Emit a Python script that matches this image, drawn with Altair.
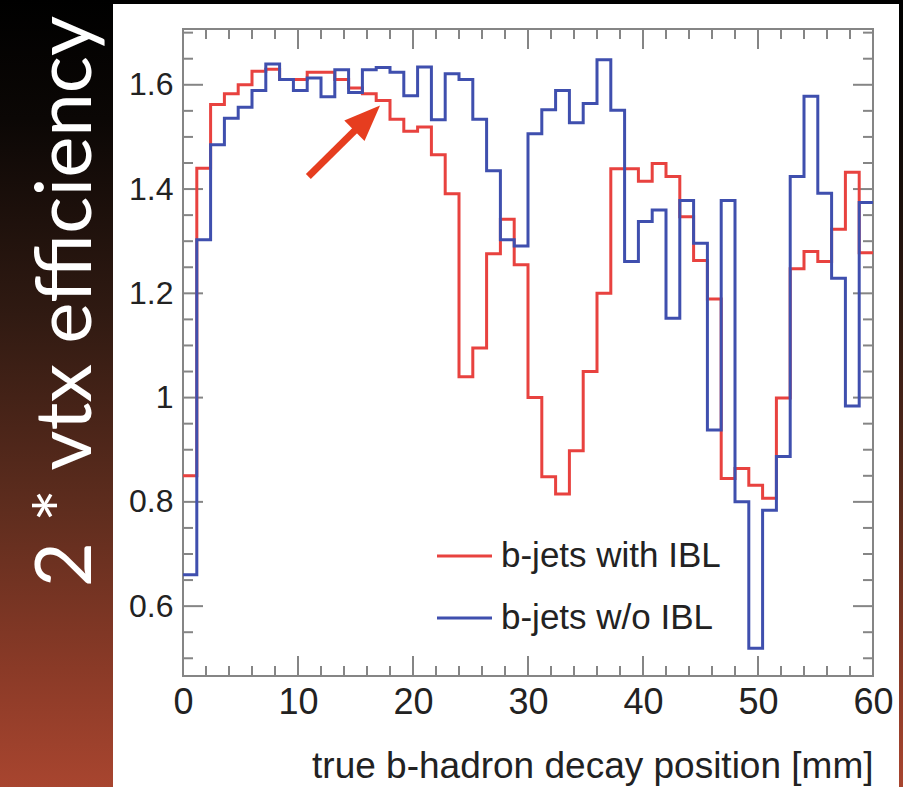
import altair as alt
import pandas as pd
import numpy as np

# ---------------- data ----------------
series_names = ["b-jets with IBL", "b-jets w/o IBL"]
series_colors = ["#e8423f", "#3f4fae"]

bin_edges = list(np.linspace(0, 60, 51))  # 50 bins of 1.2 mm

with_ibl = [
    0.850, 1.440, 1.562, 1.583, 1.600, 1.626, 1.630, 1.610, 1.610, 1.624,
    1.624, 1.610, 1.594, 1.583, 1.570, 1.534, 1.511, 1.519, 1.466, 1.391,
    1.040, 1.095, 1.276, 1.342, 1.255, 1.000, 0.848, 0.815, 0.898, 1.050,
    1.200, 1.439, 1.439, 1.415, 1.449, 1.424, 1.347, 1.263, 1.189, 0.845,
    0.864, 0.832, 0.807, 0.999, 1.247, 1.280, 1.261, 1.323, 1.432, 1.278,
]
without_ibl = [
    0.660, 1.303, 1.485, 1.536, 1.557, 1.589, 1.640, 1.610, 1.589, 1.613,
    1.577, 1.629, 1.585, 1.629, 1.633, 1.624, 1.579, 1.634, 1.533, 1.621,
    1.610, 1.534, 1.435, 1.303, 1.291, 1.506, 1.552, 1.589, 1.527, 1.564,
    1.648, 1.551, 1.261, 1.338, 1.360, 1.152, 1.378, 1.296, 0.938, 1.378,
    0.800, 0.519, 0.784, 0.887, 1.424, 1.578, 1.392, 1.229, 0.984, 1.374,
]

x_major = [0, 10, 20, 30, 40, 50, 60]
x_minor = [2, 4, 6, 8, 12, 14, 16, 18, 22, 24, 26, 28, 32, 34, 36, 38,
           42, 44, 46, 48, 52, 54, 56, 58]
y_major = [0.6, 0.8, 1.0, 1.2, 1.4, 1.6]
y_minor = [0.5, 0.55, 0.65, 0.7, 0.75, 0.85, 0.9, 0.95, 1.05, 1.1, 1.15,
           1.25, 1.3, 1.35, 1.45, 1.5, 1.55, 1.65, 1.7]

x_domain = [0, 60]
y_domain = [0.466, 1.707]

# annotation arrow (data coordinates): tail and head
arrow_tail = [10.90, 1.424]
arrow_head = [16.02, 1.536]
arrow_color = "#e63d1f"

x_title = "true b-hadron decay position [mm]"
y_title = "2 * vtx efficiency"

# ---------------- layout ----------------
W, H = 690, 647
PAD_L, PAD_T, PAD_R, PAD_B = 183, 29, 30, 111
FRAME = "#858585"
TEXT = "#222222"
FONT = "Liberation Sans"

xs = alt.Scale(domain=x_domain, nice=False, zero=False)
ys = alt.Scale(domain=y_domain, nice=False, zero=False)

x_axis = alt.Axis(
    values=x_major, format="d", labelFontSize=36, labelFont=FONT,
    labelColor=TEXT, labelPadding=9, labelFlush=False, labelOverlap=False,
    ticks=False, domain=False, grid=False,
    title=x_title, titleFont=FONT, titleFontSize=37,
    titleFontWeight="normal", titleColor=TEXT,
    titleAlign="right", titleAnchor="end", titleX=W, titleY=90,
    titleBaseline="middle", zindex=1)
y_axis = alt.Axis(
    values=y_major, format="~g", labelFontSize=32, labelFont=FONT,
    labelColor=TEXT, labelPadding=10, labelFlush=False, labelOverlap=False,
    ticks=False, domain=False, grid=False,
    title=y_title, titleFont="Lato", titleFontSize=78,
    titleFontWeight="normal", titleColor="white", titleAngle=270,
    titleX=-116, titleY=272, titleAlign="center", titleBaseline="middle",
    zindex=1)

rows = []
for name, vals in zip(series_names, [with_ibl, without_ibl]):
    for e, v in zip(bin_edges[:-1], vals):
        rows.append({"x": float(e), "y": v, "series": name})
    rows.append({"x": float(bin_edges[-1]), "y": vals[-1], "series": name})
step_df = pd.DataFrame(rows)

one = alt.Data(values=[{}])

bg = alt.Chart(one).mark_rect(
    color=alt.LinearGradient(
        gradient="linear",
        stops=[
            alt.GradientStop(color="#000000", offset=0),
            alt.GradientStop(color="#0b0705", offset=0.15),
            alt.GradientStop(color="#301a12", offset=0.4),
            alt.GradientStop(color="#5f2d1e", offset=0.65),
            alt.GradientStop(color="#8a3a27", offset=0.85),
            alt.GradientStop(color="#a8452f", offset=1),
        ],
        x1=0, x2=0, y1=0, y2=1,
    )
).encode(
    x=alt.value(-PAD_L), x2=alt.value(W + PAD_R),
    y=alt.value(-PAD_T), y2=alt.value(H + PAD_B),
)

panel = alt.Chart(one).mark_rect(color="white").encode(
    x=alt.value(113 - PAD_L), x2=alt.value(899 - PAD_L),
    y=alt.value(4 - PAD_T), y2=alt.value(H + PAD_B),
)

frame = alt.Chart(one).mark_rect(
    filled=False, stroke=FRAME, strokeWidth=2, fillOpacity=0).encode(
    x=alt.value(0), x2=alt.value(W), y=alt.value(0), y2=alt.value(H))

lines = alt.Chart(step_df).mark_line(
    interpolate="step-after", strokeWidth=3, clip=True
).encode(
    x=alt.X("x:Q", scale=xs, axis=x_axis),
    y=alt.Y("y:Q", scale=ys, axis=y_axis),
    color=alt.Color("series:N", scale=alt.Scale(domain=series_names,
                                                 range=series_colors),
                    legend=None),
    detail="series:N",
)


def xticks(vals, length):
    d = pd.DataFrame({"x": vals})
    b = alt.Chart(d).mark_rule(color=FRAME, strokeWidth=2).encode(
        x=alt.X("x:Q", scale=xs, axis=x_axis),
        y=alt.value(H), y2=alt.value(H - length))
    t = alt.Chart(d).mark_rule(color=FRAME, strokeWidth=2).encode(
        x=alt.X("x:Q", scale=xs, axis=x_axis),
        y=alt.value(0), y2=alt.value(length))
    return [b, t]


def yticks(vals, length):
    d = pd.DataFrame({"y": vals})
    l = alt.Chart(d).mark_rule(color=FRAME, strokeWidth=2).encode(
        y=alt.Y("y:Q", scale=ys, axis=y_axis),
        x=alt.value(0), x2=alt.value(length))
    r = alt.Chart(d).mark_rule(color=FRAME, strokeWidth=2).encode(
        y=alt.Y("y:Q", scale=ys, axis=y_axis),
        x=alt.value(W), x2=alt.value(W - length))
    return [l, r]


tick_layers = (xticks(x_major, 20) + xticks(x_minor, 10)
               + yticks(y_major, 20) + yticks(y_minor, 10))

legend_layers = []
for i, (name, col) in enumerate(zip(series_names, series_colors)):
    ypix = 527 + 62 * i
    legend_layers.append(
        alt.Chart(alt.Data(values=[{"label": name}])).mark_rule(
            color=col, strokeWidth=3).encode(
            x=alt.value(254), x2=alt.value(309),
            y=alt.value(ypix), y2=alt.value(ypix)))
    legend_layers.append(
        alt.Chart(alt.Data(values=[{"label": name}])).mark_text(
            align="left", baseline="middle", fontSize=35, font=FONT,
            color=TEXT).encode(
            x=alt.value(318), y=alt.value(ypix), text="label:N"))

arrow_df = pd.DataFrame({"x": [arrow_tail[0]], "y": [arrow_tail[1]],
                         "x2": [arrow_head[0]], "y2": [arrow_head[1]]})
arrow_line = alt.Chart(arrow_df).mark_rule(
    color=arrow_color, strokeWidth=7).encode(
    x=alt.X("x:Q", scale=xs, axis=x_axis),
    y=alt.Y("y:Q", scale=ys, axis=y_axis),
    x2="x2:Q", y2="y2:Q")
arrow_tip = alt.Chart(arrow_df).mark_point(
    shape="M0,-1L0.8,1L-0.8,1Z", filled=True, size=1296, angle=45.4,
    color=arrow_color, opacity=1).encode(
    x=alt.X("x2:Q", scale=xs, axis=x_axis),
    y=alt.Y("y2:Q", scale=ys, axis=y_axis))

chart = alt.layer(
    bg, panel, *tick_layers, frame, lines, *legend_layers, arrow_line,
    arrow_tip
).properties(
    width=W, height=H,
    autosize=alt.AutoSizeParams(type="none"),
    padding={"left": PAD_L, "top": PAD_T, "right": PAD_R, "bottom": PAD_B},
).configure(background="black").configure_view(
    stroke=None, strokeWidth=0
)

chart.save("out.html", embed_options={"renderer": "svg", "actions": False})
